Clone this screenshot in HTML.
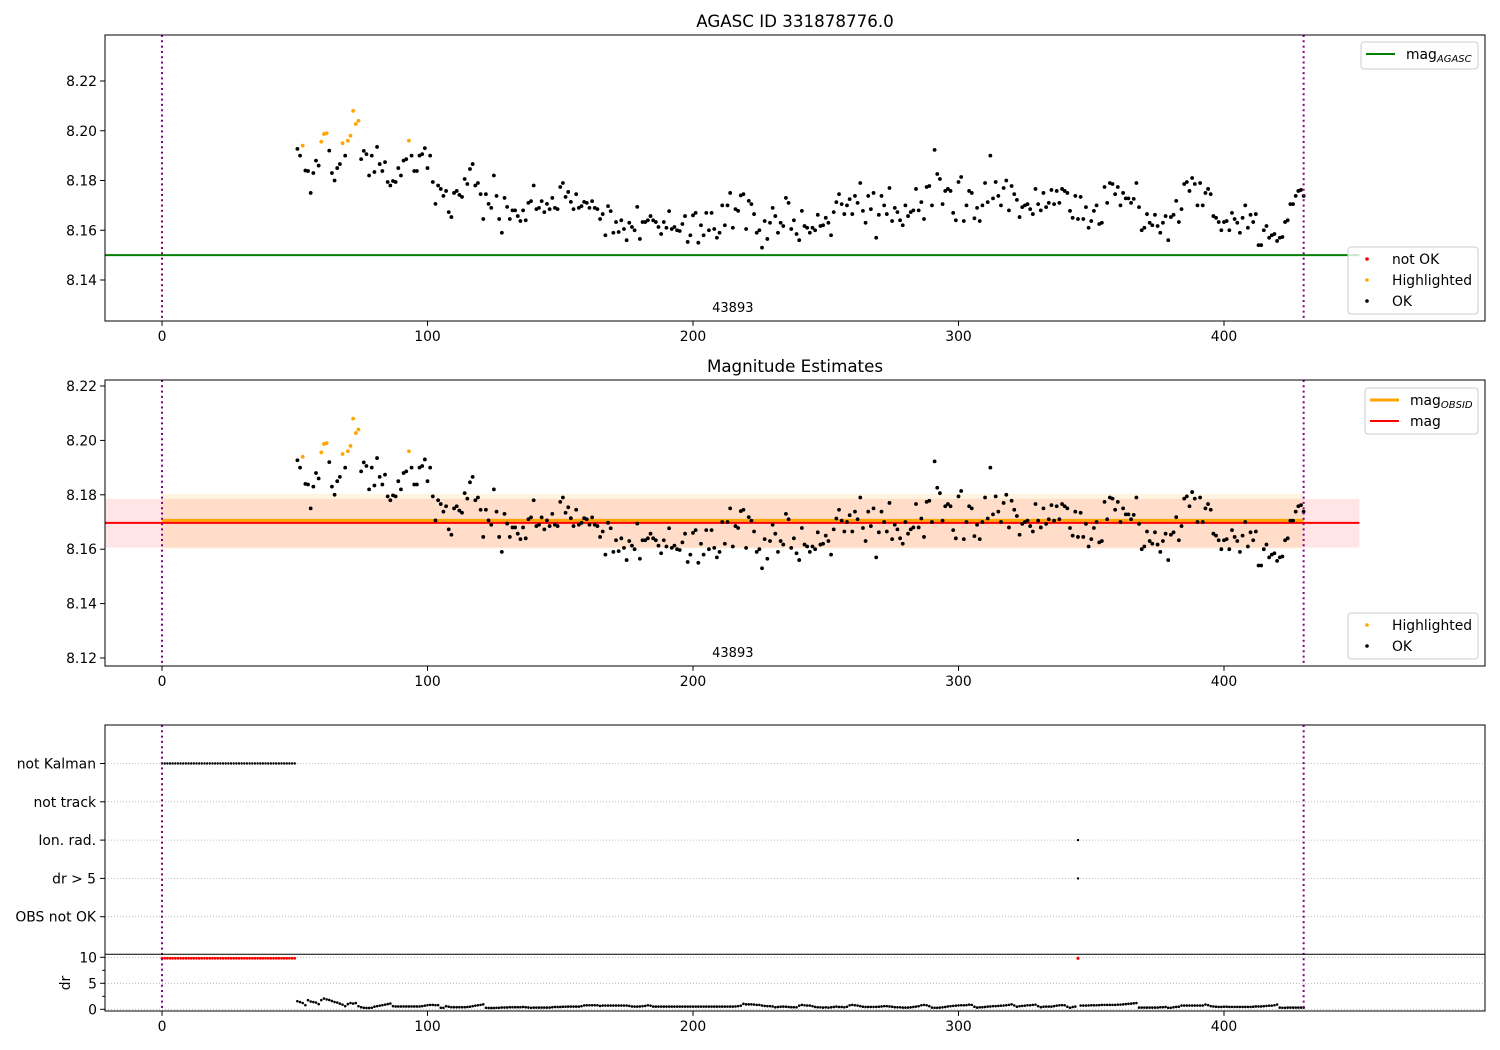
<!DOCTYPE html>
<html><head><meta charset="utf-8"><title>AGASC ID 331878776.0</title>
<style>
html,body{margin:0;padding:0;background:#fff;}
svg{display:block;font-family:"DejaVu Sans","Liberation Sans",sans-serif;}
</style></head>
<body>
<svg id="chart" width="1500" height="1050" viewBox="0 0 1500 1050" xmlns="http://www.w3.org/2000/svg">
<rect x="0" y="0" width="1500" height="1050" fill="#fff"/>
<g id="g1"></g>
<g id="g2"></g>
<g id="g3"></g>
</svg>
<script>
const startIdx = 51;
const mags = [
8.1927,8.190,8.194,8.184,8.1838,8.175,8.183,8.188,8.186,8.1956,
8.1987,8.199,8.192,8.183,8.180,8.185,8.1866,8.195,8.190,8.196,
8.198,8.208,8.2027,8.204,8.1886,8.1919,8.1906,8.182,8.190,8.1834,
8.1935,8.1866,8.1838,8.1874,8.1794,8.178,8.1798,8.1794,8.185,8.182,
8.188,8.1886,8.196,8.190,8.1838,8.1838,8.190,8.1906,8.193,8.185,
8.190,8.1794,8.1706,8.178,8.1766,8.1738,8.1758,8.1673,8.1653,8.175,
8.1758,8.1742,8.1734,8.1806,8.1786,8.1846,8.1866,8.178,8.179,8.1745,
8.1645,8.1745,8.1706,8.169,8.182,8.1738,8.1645,8.159,8.173,8.1694,
8.1645,8.168,8.168,8.1657,8.1637,8.168,8.164,8.171,8.1717,8.178,
8.1685,8.169,8.1717,8.1673,8.1706,8.1685,8.173,8.169,8.1685,8.1774,
8.179,8.1734,8.1754,8.1714,8.1685,8.1745,8.169,8.1697,8.1714,8.171,
8.169,8.1717,8.169,8.1685,8.1645,8.1665,8.158,8.1697,8.1677,8.159,
8.1633,8.1593,8.164,8.1605,8.156,8.163,8.1613,8.160,8.1694,8.1565,
8.1633,8.1633,8.164,8.1657,8.164,8.1633,8.1613,8.1585,8.1633,8.161,
8.1677,8.1605,8.1613,8.160,8.1597,8.1625,8.1657,8.1553,
8.158,8.166,8.167,8.155,8.162,8.158,8.167,8.160,8.167,8.1605,
8.157,8.159,8.170,8.162,8.170,8.175,8.161,8.1685,8.1678,8.174,
8.1745,8.1605,8.1718,8.1705,8.1665,8.159,8.160,8.153,8.1637,8.1565,
8.163,8.169,8.1657,8.159,8.163,8.1617,8.173,8.171,8.1605,8.164,
8.1585,8.156,8.1678,8.1617,8.161,8.159,8.161,8.160,8.1662,8.1617,
8.162,8.165,8.163,8.158,8.1673,8.1713,8.1745,8.1705,8.1665,8.170,
8.1725,8.1665,8.1738,8.171,8.179,8.1678,8.163,8.1738,8.1685,8.175,
8.157,8.1662,8.1738,8.170,8.1665,8.177,8.1637,8.169,8.1673,8.164,
8.162,8.170,8.1657,8.1673,8.168,8.1766,8.168,8.1713,8.1645,8.1774,
8.1778,8.170,8.1923,8.1826,8.1806,8.1705,8.1758,8.1766,8.1758,8.167,
8.164,8.1794,8.1814,8.1637,8.170,8.1758,8.175,8.1648,8.169,8.1637,
8.170,8.179,8.1713,8.190,8.1728,8.1794,8.1738,8.170,8.177,8.180,
8.168,
8.1778,8.1745,8.1722,8.1653,8.1693,8.170,8.1705,8.1685,8.1665,8.1766,
8.1705,8.168,8.175,8.1693,8.171,8.1762,8.1705,8.1758,8.171,8.1766,
8.1758,8.175,8.1678,8.165,8.1738,8.1645,8.1734,8.1645,8.1693,8.161,
8.1637,8.1678,8.170,8.1625,8.163,8.1774,8.171,8.179,8.1786,8.1745,
8.1774,8.170,8.175,8.1728,8.1728,8.171,8.1726,8.179,8.1693,8.160,
8.161,8.1665,8.163,8.162,8.1662,8.1617,8.159,8.163,8.1657,8.156,
8.1653,8.1662,8.1718,8.1633,8.1685,8.1786,8.1794,8.1758,8.181,8.1786,
8.170,8.179,8.170,8.175,8.1766,8.1745,8.1657,8.165,8.1633,8.160,
8.1633,8.1637,8.160,8.167,8.1645,8.163,8.159,8.165,8.170,8.161,
8.1662,8.1633,8.1665,8.154,8.154,8.160,8.1617,8.157,8.158,8.1585,
8.1557,8.157,8.1573,8.1633,8.164,8.1705,8.1705,8.1738,8.1758,8.1762,
8.1738];
const highlightedIdx = [53,60,61,62,68,70,71,72,73,74,93];
const drVals = [
1.56,1.4,1.2,0.8,1.76,1.5,1.4,1.3,1.0,1.76,
2.07,1.9,1.8,1.6,1.4,1.3,1.1,0.9,0.6,1.0,
1.2,1.1,1.2,0.6,0.4,0.3,0.26,0.26,0.3,0.5,
0.6,0.7,0.8,0.9,1.0,1.1,0.6,0.55,0.55,0.55,
0.55,0.55,0.55,0.55,0.55,0.55,0.55,0.6,0.7,0.8,
0.85,0.85,0.8,0.8,0.3,0.3,0.6,0.5,0.4,0.4,
0.4,0.4,0.4,0.4,0.45,0.5,0.6,0.7,0.78,0.85,
0.95,0.3,0.26,0.26,0.26,0.3,0.3,0.35,0.35,0.35,
0.4,0.4,0.4,0.4,0.4,0.45,0.4,0.35,0.3,0.33,
0.33,0.33,0.33,0.33,0.33,0.33,0.4,0.45,0.45,0.45,
0.5,0.5,0.52,0.52,0.52,0.52,0.52,0.6,0.75,0.78,
0.78,0.78,0.78,0.78,0.65,0.72,0.72,0.72,0.72,0.72,
0.72,0.72,0.72,0.72,0.72,0.65,0.55,0.52,0.52,0.55,
0.6,0.65,0.78,0.7,0.52,0.52,0.52,0.52,0.52,0.52,
0.52,0.52,0.52,0.52,0.52,0.52,0.52,0.52,0.52,0.52,
0.52,0.52,0.52,0.52,0.52,0.52,0.52,0.52,0.52,0.52,
0.52,0.52,0.52,0.52,0.52,0.55,0.6,0.7,1.05,0.95,
0.95,0.95,0.92,0.85,0.85,0.72,0.65,0.6,0.6,0.55,
0.39,0.45,0.5,0.52,0.5,0.45,0.4,0.4,0.39,0.7,
0.85,0.78,0.72,0.72,0.6,0.45,0.39,0.39,0.33,0.39,
0.33,0.39,0.45,0.52,0.45,0.45,0.39,0.5,0.78,0.85,
0.78,0.72,0.6,0.5,0.45,0.45,0.46,0.46,0.46,0.5,
0.55,0.6,0.6,0.55,0.5,0.4,0.39,0.39,0.33,0.33,
0.33,0.39,0.45,0.52,0.6,0.78,0.85,0.78,0.6,0.33,
0.3,0.3,0.33,0.39,0.45,0.55,0.6,0.65,0.7,0.75,
0.78,0.78,0.8,0.9,0.85,0.5,0.33,0.39,0.4,0.45,
0.52,0.55,0.6,0.6,0.65,0.7,0.72,0.78,0.85,0.95,
0.75,0.5,0.6,0.65,0.7,0.78,0.78,0.85,0.9,0.6,
0.4,0.5,0.52,0.52,0.52,0.6,0.7,0.78,0.8,0.78,
0.5,0.3,0.45,0.52,10,0.72,0.72,0.72,0.75,0.78,
0.78,0.78,0.8,0.85,0.85,0.85,0.85,0.85,0.85,0.9,
0.9,0.95,1.0,1.05,1.1,1.15,1.2,0.33,0.33,0.33,
0.33,0.33,0.33,0.33,0.33,0.4,0.4,0.45,0.3,0.3,
0.4,0.46,0.5,0.72,0.72,0.72,0.72,0.72,0.72,0.72,
0.72,0.72,0.92,0.8,0.6,0.55,0.5,0.46,0.46,0.5,
0.5,0.46,0.46,0.46,0.46,0.46,0.46,0.46,0.46,0.46,
0.5,0.55,0.55,0.55,0.6,0.65,0.7,0.7,0.78,0.92,
0.33,0.3,0.3,0.33,0.33,0.33,0.33,0.33,0.33,0.33];
const drNotOkIdx = [345];
const notKalmanRange = [0, 50];
const ionRadIdx = [345];
const drGt5Idx = [345];
const flagLabels = ["not Kalman","not track","Ion. rad.","dr > 5","OBS not OK"];
const xTicks = [0,100,200,300,400];
const y1Ticks = [8.14,8.16,8.18,8.20,8.22];
const y2Ticks = [8.12,8.14,8.16,8.18,8.20,8.22];
const drTicks = [0,5,10];
const magAgasc = 8.15;
const magObsid = 8.1706, magObsidLo = 8.1603, magObsidHi = 8.1803;
const magMean = 8.1697, magLo = 8.1606, magHi = 8.1785;
const obsStart = 0, obsEnd = 430, extendEnd = 451;
const obsLabel = "43893", obsLabelX = 215;

const NS = "http://www.w3.org/2000/svg";
const L = 105, R = 1485;
const xs = v => 162 + v * 2.655;
const y1 = v => 81 + (8.22 - v) * 2487.5;
const y2 = v => 386 + (8.22 - v) * 2720;
const yDr = v => 1009.3 - v * 5.2;
const yFlag = i => 763.5 + i * 38.3;
function el(parent, tag, attrs, text) {
  const e = document.createElementNS(NS, tag);
  for (const k in attrs) e.setAttribute(k, attrs[k]);
  if (text !== undefined) e.textContent = text;
  parent.appendChild(e);
  return e;
}
const FS = "13.9px";
function xAxis(g, bottom) {
  xTicks.forEach(t => {
    const tk = el(g, "line", {x1: xs(t), x2: xs(t), y1: bottom, y2: bottom + 4.9, stroke: "#000", "stroke-width": 1});
    
    
    const lb = el(g, "text", {x: xs(t), y: bottom + 20, "text-anchor": "middle", "font-size": FS, fill: "#000"}, String(t));
    
    
  });
}
function yAxis(g, ticks, yf, fmt) {
  ticks.forEach(t => {
    const tk = el(g, "line", {x1: L - 4.9, x2: L, y1: yf(t), y2: yf(t), stroke: "#000", "stroke-width": 1});
    
    
    const lb = el(g, "text", {x: L - 8, y: yf(t) + 5, "text-anchor": "end", "font-size": FS, fill: "#000"}, fmt(t));
    
    
  });
}
function frame(g, top, bottom) {
  const f = el(g, "rect", {x: L, y: top, width: R - L, height: bottom - top, fill: "none", stroke: "#000", "stroke-width": 1});
  
  
}
function vlines(g, top, bottom) {
  [obsStart, obsEnd].forEach(v => {
    const l = el(g, "line", {x1: xs(v), x2: xs(v), y1: top, y2: bottom, stroke: "#800080", "stroke-width": 2, "stroke-dasharray": "2,3.3"});
    
    
  });
}
function clip(id, top, bottom) {
  const d = el(document.getElementById("chart"), "clipPath", {id: id});
  el(d, "rect", {x: L, y: top, width: R - L, height: bottom - top});
}
function dots(g, yf, r, clipId) {
  const gg = el(g, "g", {"clip-path": "url(#" + clipId + ")"});
  mags.forEach((v, i) => {
    const idx = startIdx + i;
    const hl = highlightedIdx.includes(idx);
    const c = el(gg, "circle", {cx: xs(idx), cy: yf(v), r: r, fill: hl ? "#ffa500" : "#000"});
    
    
  });
}
function legend(g, x, y, w, h, entries) {
  const b = el(g, "rect", {x: x, y: y, width: w, height: h, rx: 3, fill: "#fff", "fill-opacity": 0.8, stroke: "#ccc", "stroke-width": 1});
  
  
  entries.forEach((e, i) => {
    const cy = y + 12 + i * 21;
    if (e.type === "line") {
      const l = el(g, "line", {x1: x + 5, x2: x + 34, y1: cy, y2: cy, stroke: e.color, "stroke-width": e.w});
      
      
    } else {
      const c = el(g, "circle", {cx: x + 19, cy: cy, r: 1.8, fill: e.color});
      
      
    }
    const t = el(g, "text", {x: x + (e.type === "line" ? 45 : 44), y: cy + 5, "font-size": FS, fill: "#000"});
    
    
    t.appendChild(document.createTextNode(e.label));
    if (e.sub) {
      el(t, "tspan", {dy: 3, "font-size": "10px", "font-style": "italic"}, e.sub);
    }
  });
}

/* Panel 1 */
const g1 = document.getElementById("g1");
clip("c1", 35, 321);
const t1 = el(g1, "text", {x: 795, y: 27, "text-anchor": "middle", "font-size": "16.7px", fill: "#000"}, "AGASC ID 331878776.0");


const ag = el(g1, "line", {x1: L, x2: xs(extendEnd), y1: y1(magAgasc), y2: y1(magAgasc), stroke: "#008000", "stroke-width": 2});


dots(g1, y1, 1.9, "c1");
vlines(g1, 35, 321);
const o1 = el(g1, "text", {x: xs(obsLabelX), y: 312, "text-anchor": "middle", "font-size": "13px", fill: "#000"}, obsLabel);


frame(g1, 35, 321);
xAxis(g1, 321);
yAxis(g1, y1Ticks, y1, t => t.toFixed(2));
legend(g1, 1361, 42, 117, 27, [{type: "line", color: "#008000", w: 2, label: "mag", sub: "AGASC"}]);
legend(g1, 1348, 247, 130, 67, [{type: "dot", color: "#ff0000", label: "not OK"}, {type: "dot", color: "#ffa500", label: "Highlighted"}, {type: "dot", color: "#000", label: "OK"}]);

/* Panel 2 */
const g2 = document.getElementById("g2");
clip("c2", 380, 666);
const t2 = el(g2, "text", {x: 795, y: 372, "text-anchor": "middle", "font-size": "16.7px", fill: "#000"}, "Magnitude Estimates");


const pb = el(g2, "rect", {x: L, y: y2(magHi), width: xs(extendEnd) - L, height: y2(magLo) - y2(magHi), fill: "#ff0000", "fill-opacity": 0.1});


const ob = el(g2, "rect", {x: xs(obsStart), y: y2(magObsidHi), width: xs(obsEnd) - xs(obsStart), height: y2(magObsidLo) - y2(magObsidHi), fill: "#ffa500", "fill-opacity": 0.12});


const ol = el(g2, "line", {x1: xs(obsStart), x2: xs(obsEnd), y1: y2(magObsid), y2: y2(magObsid), stroke: "#ffa500", "stroke-width": 3});


const rl = el(g2, "line", {x1: L, x2: xs(extendEnd), y1: y2(magMean), y2: y2(magMean), stroke: "#ff0000", "stroke-width": 2});


dots(g2, y2, 1.9, "c2");
vlines(g2, 380, 666);
const o2 = el(g2, "text", {x: xs(obsLabelX), y: 657, "text-anchor": "middle", "font-size": "13px", fill: "#000"}, obsLabel);


frame(g2, 380, 666);
xAxis(g2, 666);
yAxis(g2, y2Ticks, y2, t => t.toFixed(2));
legend(g2, 1365, 388, 113, 46, [{type: "line", color: "#ffa500", w: 3, label: "mag", sub: "OBSID"}, {type: "line", color: "#ff0000", w: 2, label: "mag"}]);
legend(g2, 1348, 613, 130, 46, [{type: "dot", color: "#ffa500", label: "Highlighted"}, {type: "dot", color: "#000", label: "OK"}]);

/* Panel 3: flags + dr */
const g3 = document.getElementById("g3");
flagLabels.forEach((lab, i) => {
  const gl = el(g3, "line", {x1: L, x2: R, y1: yFlag(i), y2: yFlag(i), stroke: "#b0b0b0", "stroke-width": 0.8, "stroke-dasharray": "1,2"});
  
  
  const tk = el(g3, "line", {x1: L - 4.9, x2: L, y1: yFlag(i), y2: yFlag(i), stroke: "#000"});
  
  
  const t = el(g3, "text", {x: L - 9, y: yFlag(i) + 5, "text-anchor": "end", "font-size": FS, fill: "#000"}, lab);
  
  
});
drTicks.forEach(t => {
  const gl = el(g3, "line", {x1: L, x2: R, y1: yDr(t), y2: yDr(t), stroke: "#b0b0b0", "stroke-width": 0.8, "stroke-dasharray": "1,2"});
  
  
});
[2.5, 7.5].forEach(t => {
  const m = el(g3, "line", {x1: L - 2.8, x2: L, y1: yDr(t), y2: yDr(t), stroke: "#000"});
  
  
});
for (let i = notKalmanRange[0]; i <= notKalmanRange[1]; i++) {
  const c = el(g3, "circle", {cx: xs(i), cy: yFlag(0), r: 1.2, fill: "#000"});
  
  
  const d = el(g3, "circle", {cx: xs(i), cy: yDr(10) + 1, r: 1.4, fill: "#ff0000"});
  
  
}
ionRadIdx.forEach(i => {
  const c = el(g3, "circle", {cx: xs(i), cy: yFlag(2), r: 1.2, fill: "#000"});
  
  
});
drGt5Idx.forEach(i => {
  const c = el(g3, "circle", {cx: xs(i), cy: yFlag(3), r: 1.2, fill: "#000"});
  
  
});
drVals.forEach((v, k) => {
  const idx = startIdx + k;
  const bad = drNotOkIdx.includes(idx);
  const c = el(g3, "circle", {cx: xs(idx), cy: yDr(Math.min(v, 10)) + (bad ? 1 : 0), r: bad ? 1.6 : 1.3, fill: bad ? "#ff0000" : "#000"});
  
  
});
vlines(g3, 725, 1011);
frame(g3, 725, 1011);
const sep = el(g3, "line", {x1: L, x2: R, y1: 954.3, y2: 954.3, stroke: "#000", "stroke-width": 1});


xAxis(g3, 1011);
yAxis(g3, drTicks, yDr, t => String(t));
const drl = el(g3, "text", {x: 0, y: 0, "text-anchor": "middle", "font-size": FS, fill: "#000", transform: "translate(70,983) rotate(-90)"}, "dr");


</script>
</body></html>
